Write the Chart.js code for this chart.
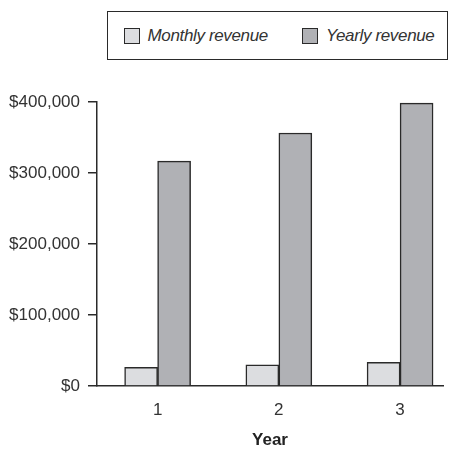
<!DOCTYPE html>
<html>
<head>
<meta charset="utf-8">
<script src="https://cdn.jsdelivr.net/npm/chart.js@4"></script>
<style>
  html, body { margin: 0; padding: 0; background: #fff; overflow: hidden; }
  #wrap { position: relative; width: 453px; height: 453px; }
  #legend {
    position: absolute; left: 107px; top: 11px; width: 341px; height: 49px;
    box-sizing: border-box; border: 1.5px solid #2a2a2a; background: #fff;
    display: flex; align-items: center; padding-left: 15.5px; white-space: nowrap;
    font: italic 17px 'Liberation Sans', sans-serif; letter-spacing: -0.35px; color: #333;
  }
  #legend .item { display: flex; align-items: center; margin-right: 34px; white-space: nowrap; flex: none; }
  #legend span.box { display: inline-block; width: 14px; height: 14px; border: 1.5px solid #2a2a2a; margin-right: 8px; }
</style>
</head>
<body>
<div id="wrap">
  <canvas id="revenue" width="453" height="453"></canvas>
  <div id="legend"></div>
</div>
<script>
const years = [1, 2, 3];
const monthlyRevenue = [26400, 29700, 33200];
const yearlyRevenue = [316800, 356400, 398400];
const seriesNames = ['Monthly revenue', 'Yearly revenue'];
const fills = ['#dcdde0', '#b0b1b5'];

const font = "'Liberation Sans', sans-serif";
const ink = '#2a2a2a';

const chart = new Chart('revenue', {
  type: 'bar',
  data: {
    labels: years,
    datasets: [
      { label: seriesNames[0], data: monthlyRevenue, backgroundColor: fills[0] },
      { label: seriesNames[1], data: yearlyRevenue, backgroundColor: fills[1] }
    ]
  },
  options: {
    responsive: false,
    animation: false,
    layout: { padding: { top: 102, right: 10, left: 0, bottom: 0 } },
    datasets: {
      bar: { barThickness: 33, borderColor: ink, borderWidth: 1.5, borderSkipped: 'bottom' }
    },
    plugins: {
      legend: { display: false },
      tooltip: { enabled: false }
    },
    scales: {
      x: {
        type: 'linear',
        min: 0.5,
        max: 3.354,
        offset: false,
        grid: { display: false, drawTicks: false },
        border: { display: true, color: ink, width: 1.5 },
        ticks: {
          stepSize: 1,
          includeBounds: false,
          padding: 14,
          color: '#333',
          font: { family: font, size: 17 },
          callback: v => Number.isInteger(v) ? String(v) : ''
        },
        title: {
          display: true,
          text: 'Year',
          color: '#222',
          font: { family: font, size: 17, weight: 'bold' },
          padding: { top: 4, bottom: 2 }
        },
        afterFit: s => { s.height = 67; }
      },
      y: {
        min: 0,
        max: 400000,
        grid: { drawOnChartArea: false, drawTicks: true, tickLength: 9, color: ink, lineWidth: 1.5 },
        border: { display: true, color: ink, width: 1.5 },
        ticks: {
          stepSize: 100000,
          padding: 8,
          color: '#333',
          font: { family: font, size: 17 },
          callback: v => '$' + v.toLocaleString('en-US')
        },
        afterFit: s => { s.width = 97; }
      }
    }
  }
});

// html legend
const legend = document.getElementById('legend');
chart.data.datasets.forEach(ds => {
  const item = document.createElement('div');
  item.className = 'item';
  const box = document.createElement('span');
  box.className = 'box';
  box.style.background = ds.backgroundColor;
  item.appendChild(box);
  item.appendChild(document.createTextNode(ds.label));
  legend.appendChild(item);
});
</script>
</body>
</html>
